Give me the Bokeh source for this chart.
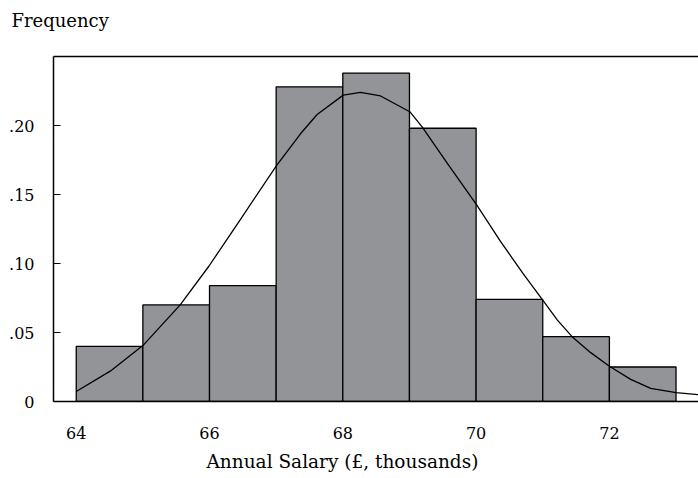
from bokeh.plotting import figure
from bokeh.models import (Range1d, FixedTicker, CustomJSTickFormatter, LinearAxis, Title)
from bokeh.embed import file_html
from bokeh.resources import INLINE

# Histogram data (bin edges in £ thousands, relative frequency)
bin_left = [64, 65, 66, 67, 68, 69, 70, 71, 72]
bin_right = [65, 66, 67, 68, 69, 70, 71, 72, 73]
freq = [0.040, 0.070, 0.084, 0.228, 0.238, 0.198, 0.074, 0.047, 0.025]

# Fitted density curve
curve_x = [64.0, 64.51, 65.0, 65.56, 65.99, 66.465, 67.005, 67.365, 67.615, 68.006, 68.266,
           68.566, 69.005, 69.19, 69.566, 70.006, 70.366, 70.7, 71.0, 71.22, 71.44, 71.72,
           72.0, 72.32, 72.62, 73.0, 73.34]
curve_y = [0.0072, 0.022, 0.0405, 0.070, 0.098, 0.132, 0.171, 0.194, 0.208, 0.222, 0.224,
           0.2214, 0.210, 0.199, 0.1727, 0.1426, 0.116, 0.093, 0.0735, 0.059, 0.047, 0.0354,
           0.0255, 0.0160, 0.0095, 0.0065, 0.005]

x_ticks = [64, 66, 68, 70, 72]
y_ticks = [0, 0.05, 0.10, 0.15, 0.20]

FONT = "DejaVu Serif"

p = figure(width=698, height=478, output_backend="svg", toolbar_location=None,
           x_range=Range1d(63.659, 73.337), y_range=Range1d(0, 0.25),
           min_border_left=53, min_border_right=0, min_border_top=56, min_border_bottom=76)
p.outline_line_color = None
p.grid.visible = False
p.background_fill_color = "white"

p.quad(left=bin_left, right=bin_right, bottom=0, top=freq,
       fill_color="#939498", line_color="black", line_width=1.3)
p.line(curve_x, curve_y, line_color="black", line_width=1.3, line_join="round")

# title used as the "Frequency" caption (second blank line lifts it up)
p.title.text = "Frequency\n\u00a0"
p.title.align = "left"
p.title.offset = -42
p.title.standoff = 10
p.title.text_font = FONT
p.title.text_font_size = "18px"
p.title.text_font_style = "normal"
p.title.text_color = "black"

# x axis
xa = p.xaxis[0]
xa.ticker = FixedTicker(ticks=x_ticks)
xa.major_tick_in = 0
xa.major_tick_out = 0
xa.minor_tick_line_color = None
xa.axis_line_width = 1.5
xa.major_label_standoff = 25
xa.major_label_text_font = FONT
xa.major_label_text_font_size = "16px"
xa.major_label_text_color = "black"

# x axis caption, centred under the 68 tick as in the original
xcap = Title(text="Annual Salary (£, thousands)", align="left", offset=153, standoff=14,
             text_font=FONT, text_font_size="18.5px", text_font_style="normal",
             text_color="black")
p.add_layout(xcap, "below")

# y axis
ya = p.yaxis[0]
ya.ticker = FixedTicker(ticks=y_ticks)
ya.formatter = CustomJSTickFormatter(code="return tick == 0 ? '0' : tick.toFixed(2).replace(/^0/, '');")
ya.major_tick_in = 7
ya.major_tick_out = 0
ya.minor_tick_line_color = None
ya.axis_line_width = 1.5
ya.major_label_standoff = 19
ya.major_label_text_font = FONT
ya.major_label_text_font_size = "16px"
ya.major_label_text_color = "black"

# top border line
top = LinearAxis(ticker=FixedTicker(ticks=[]), major_tick_line_color=None,
                 minor_tick_line_color=None, major_label_text_font_size="0px",
                 axis_line_width=1.5)
p.add_layout(top, "above")

open("out.html", "w").write(file_html(p, INLINE))
